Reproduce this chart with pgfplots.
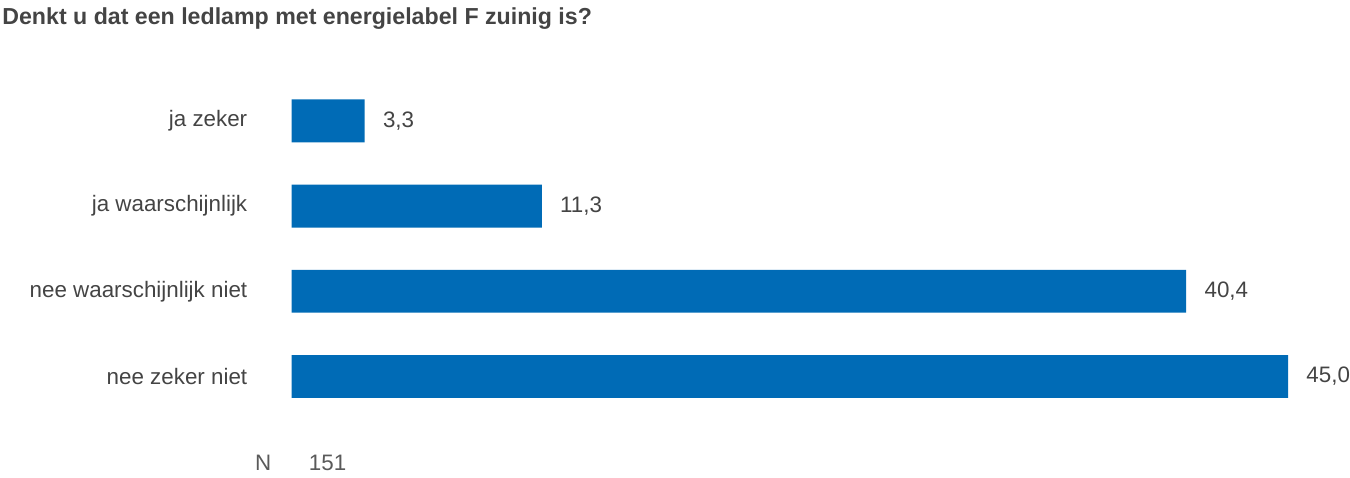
\documentclass[border=0pt]{standalone}
\usepackage{pgfplots}
\pgfplotsset{compat=1.18}
\usepackage{pgfplotstable}
\usepackage{fontspec}
\setmainfont{Liberation Sans}
\definecolor{barblue}{RGB}{0,107,182}
\definecolor{txt}{RGB}{68,68,68}
\definecolor{txtlight}{RGB}{90,90,90}
\pgfplotstableread{
idx val
0 3.3
1 11.3
2 40.4
3 45.0
}\datatable
\begin{document}
\begin{tikzpicture}
\begin{axis}[
  xbar, scale only axis, width=499pt, height=170.67pt,
  at={(0,0)}, anchor=south west,
  xmin=0, xmax=45, ymin=-0.5, ymax=3.5, y dir=reverse,
  enlargelimits=false, clip=false,
  axis line style={draw=none}, major tick length=0pt,
  xtick=\empty, ytick={0,1,2,3},
  yticklabels={ja zeker, ja waarschijnlijk, nee waarschijnlijk niet, nee zeker niet},
  yticklabel style={inner sep=0pt, xshift=-22pt, font=\fontsize{11.2}{13}\selectfont, text=txt, anchor=east},
  bar width=21.5pt,
  nodes near coords={\pgfmathprintnumber[fixed, fixed zerofill, precision=1, use comma]{\pgfplotspointmeta}},
  nodes near coords style={anchor=west, inner sep=0pt, xshift=9pt, font=\fontsize{11.2}{13}\selectfont, text=txt},
  /pgf/number format/assume math mode=true,
]
\addplot[fill=barblue, draw=none] table[x=val, y=idx] {\datatable};
\end{axis}
\begin{scope}[x=0.5pt, y=-0.5pt, shift={(-146pt,209.85pt)}]
\path[use as bounding box] (0,0) rectangle (1350,478);
\node[anchor=base west, inner sep=0pt, text=txt, font=\bfseries\fontsize{11.6}{13}\selectfont] at (2,25) {Denkt u dat een ledlamp met energielabel F zuinig is?};
\node[anchor=base west, inner sep=0pt, text=txtlight, font=\fontsize{11.2}{13}\selectfont] at (255,471) {N};
\node[anchor=base west, inner sep=0pt, text=txtlight, font=\fontsize{11.2}{13}\selectfont] at (309,471) {151};
\end{scope}
\end{tikzpicture}
\end{document}
